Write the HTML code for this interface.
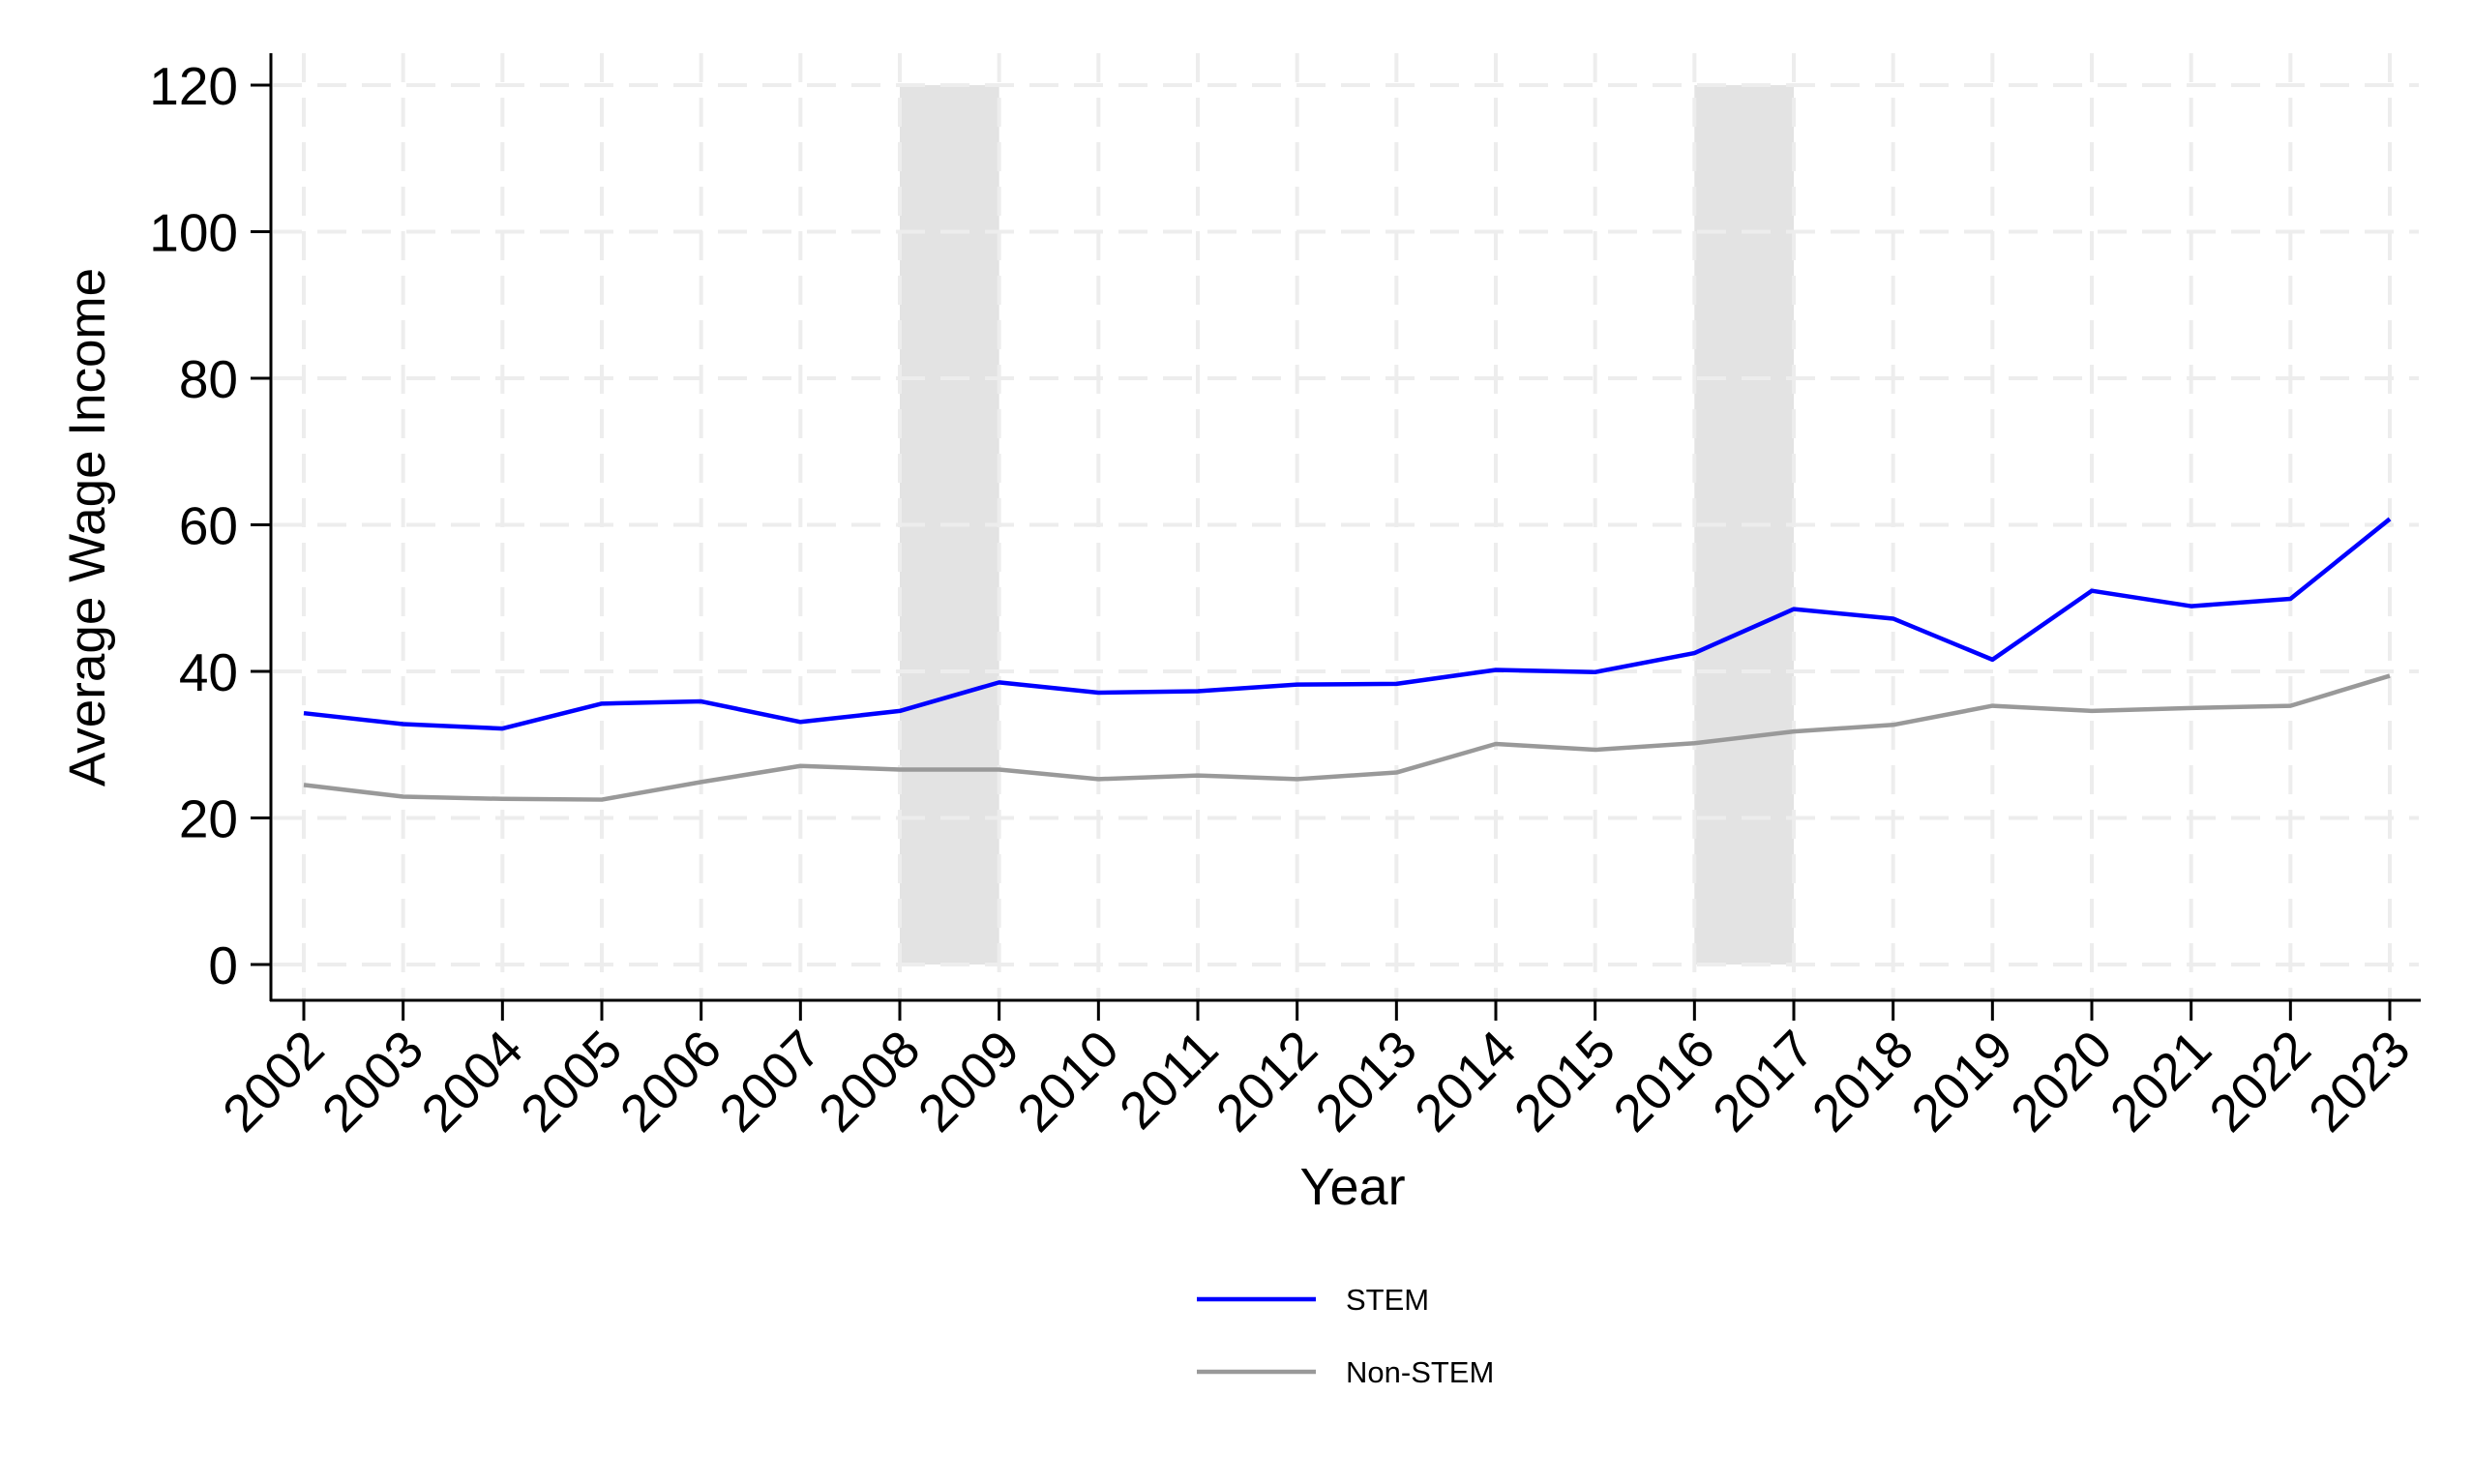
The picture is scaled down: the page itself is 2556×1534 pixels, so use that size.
<!DOCTYPE html>
<html><head><meta charset="utf-8"><style>html,body{margin:0;padding:0;background:#fff}svg{display:block;font-family:"Liberation Sans",Arial,sans-serif}</style></head>
<body>
<svg id="chart" width="2556" height="1534" viewBox="0 0 2556 1534" xmlns="http://www.w3.org/2000/svg">
<rect width="2556" height="1534" fill="#fff"/>
<g id="shade"></g><g id="grid"></g><g id="lines"></g><g id="axes"></g>
<text x="0" y="0" transform="translate(108,545) rotate(-90)" text-anchor="middle" font-size="53">Average Wage Income</text>
<text x="1398" y="1245" text-anchor="middle" font-size="54">Year</text>
<g>
<line x1="1237" y1="1343" x2="1360" y2="1343" stroke="#0000ff" stroke-width="4.5"/>
<text x="1391" y="1354" font-size="31">STEM</text>
<line x1="1237" y1="1418" x2="1360" y2="1418" stroke="#999" stroke-width="4.5"/>
<text x="1391" y="1429" font-size="31">Non-STEM</text>
</g>
</svg>
<script>
const years=[2002,2003,2004,2005,2006,2007,2008,2009,2010,2011,2012,2013,2014,2015,2016,2017,2018,2019,2020,2021,2022,2023];
const stem=[34.3,32.8,32.2,35.6,35.9,33.1,34.6,38.5,37.1,37.3,38.2,38.3,40.2,39.9,42.5,48.5,47.2,41.6,51.0,48.9,49.9,60.8];
const nonStem=[24.5,22.9,22.6,22.5,24.9,27.1,26.6,26.6,25.3,25.8,25.3,26.2,30.1,29.3,30.2,31.8,32.7,35.3,34.6,35.0,35.3,39.4];
const yTicks=[0,20,40,60,80,100,120];
const shadeStarts=[2008,2016];
const shadeEnds=[2009,2017];
const NS='http://www.w3.org/2000/svg';
const x=v=>314+(v-2002)*(2470-314)/21;
const y=v=>997-v*(997-88)/120;
function mk(tag,attrs,parent,text){const e=document.createElementNS(NS,tag);for(const k in attrs)e.setAttribute(k,attrs[k]);if(text!==undefined)e.textContent=text;parent.appendChild(e);return e;}
const shade=document.getElementById('shade'),grid=document.getElementById('grid'),lines=document.getElementById('lines'),axes=document.getElementById('axes');
shadeStarts.forEach((s,i)=>{const r=mk('rect',{x:x(s),y:y(120),width:x(shadeEnds[i])-x(s),height:y(0)-y(120),fill:'#e3e3e3'},shade);

});
years.forEach(yr=>{const l=mk('line',{x1:x(yr),y1:55,x2:x(yr),y2:1034,stroke:'#ededed','stroke-width':4,'stroke-dasharray':'30 16'},grid);

});
yTicks.forEach(t=>{const l=mk('line',{x1:282,y1:y(t),x2:2500,y2:y(t),stroke:'#ededed','stroke-width':4,'stroke-dasharray':'30 16'},grid);

});
function series(vals,color,name){const p=mk('polyline',{points:vals.map((v,i)=>x(years[i])+','+y(v)).join(' '),fill:'none',stroke:color,'stroke-width':4.5,'stroke-linejoin':'round'},lines);

}
series(nonStem,'#999999','nonstem-line');
series(stem,'#0000ff','stem-line');
const ya=mk('line',{x1:280,y1:55,x2:280,y2:1035,stroke:'#000','stroke-width':3},axes);


const xa=mk('line',{x1:279,y1:1034,x2:2502,y2:1034,stroke:'#000','stroke-width':3},axes);


yTicks.forEach(t=>{mk('line',{x1:259,y1:y(t),x2:280,y2:y(t),stroke:'#000','stroke-width':3},axes);
const tx=mk('text',{x:246,y:y(t)+20,'text-anchor':'end','font-size':55},axes,String(t));

});
years.forEach(yr=>{mk('line',{x1:x(yr),y1:1034,x2:x(yr),y2:1055,stroke:'#000','stroke-width':3},axes);
const tx=mk('text',{x:0,y:0,'text-anchor':'end','font-size':54,transform:'translate('+(x(yr)+24)+',1088) rotate(-45)'},axes,String(yr));

});
</script>
</body></html>
